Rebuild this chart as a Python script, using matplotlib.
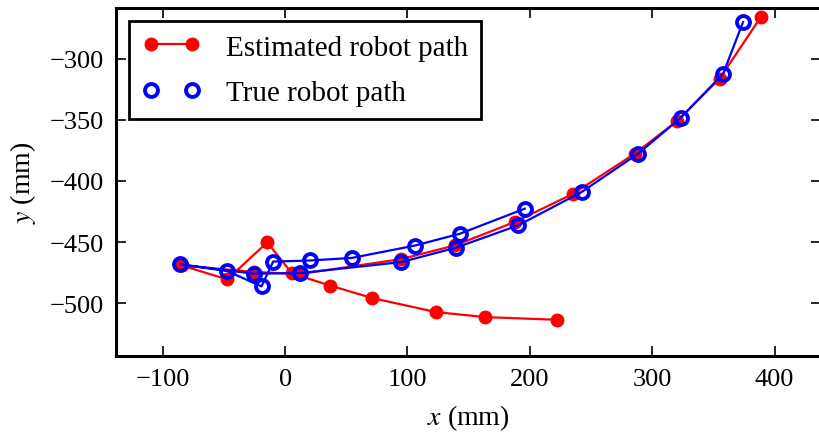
import matplotlib
matplotlib.use("Agg")
import matplotlib.pyplot as plt

plt.rcParams['font.family'] = ['Liberation Serif', 'DejaVu Serif']
plt.rcParams['mathtext.fontset'] = 'stix'

est_x = [388.8, 355.1, 319.9, 285.8, 235.4, 187.7, 138.7, 94.6, 12.0, -25.6,
         -84.7, -47.4, -14.6, 5.7, 37.0, 71.1, 123.2, 163.2, 222.3]
est_y = [-265.9, -316.4, -351.3, -377.7, -410.5, -433.6, -452.8, -464.0, -476.2, -474.5,
         -469.1, -480.6, -450.3, -475.7, -485.7, -495.8, -507.3, -511.4, -513.6]

true_x = [374.3, 358.0, 323.2, 288.5, 242.3, 190.4, 139.3, 95.0, 12.0, -25.6,
          -85.9, -47.4, -19.3, -9.8, 20.3, 54.5, 106.0, 142.8, 195.9]
true_y = [-270.0, -312.3, -348.5, -377.7, -409.1, -436.4, -454.7, -466.4, -475.4, -475.9,
          -468.3, -473.7, -486.3, -466.0, -465.1, -463.0, -452.9, -443.2, -422.7]

xticks = [-100, 0, 100, 200, 300, 400]
yticks = [-500, -450, -400, -350, -300]

fig = plt.figure(figsize=(8.19, 4.39), dpi=100)
ax = fig.add_axes([116.3 / 819, (439 - 356.7) / 439, (821 - 116.3) / 819, (356.7 - 9) / 439])

ax.plot(est_x, est_y, '-o', color='#ff0000', lw=1.6, ms=9.0, mec='#ff0000',
        label='Estimated robot path', zorder=2)
ax.plot(true_x, true_y, '-', color='#0000ff', lw=1.6, zorder=3)
ax.plot(true_x, true_y, 'o', ls='none', mfc='none', mec='#0000ff', mew=2.8, ms=9.3,
        label='True robot path', zorder=4)

ax.set_xlim(-138, 438)
ax.set_ylim(-543, -258.5)
ax.set_xticks(xticks)
ax.set_yticks(yticks)
ax.tick_params(direction='in', length=7.5, width=1.2, labelsize=19, pad=9,
               top=True, right=True)
for s in ax.spines.values():
    s.set_linewidth(2.2)

ax.set_xlabel(r'$x$ (mm)', fontsize=20, labelpad=9)
ax.set_ylabel(r'$y$ (mm)', fontsize=20, labelpad=8)

leg = ax.legend(loc='upper left', fontsize=21,
                numpoints=2, handlelength=2.0, handletextpad=0.85,
                borderaxespad=0.45, borderpad=0.45, labelspacing=0.65,
                fancybox=False, framealpha=1)
leg.get_frame().set_edgecolor('black')
leg.get_frame().set_linewidth(2.0)

fig.savefig('out.png', dpi=100)
